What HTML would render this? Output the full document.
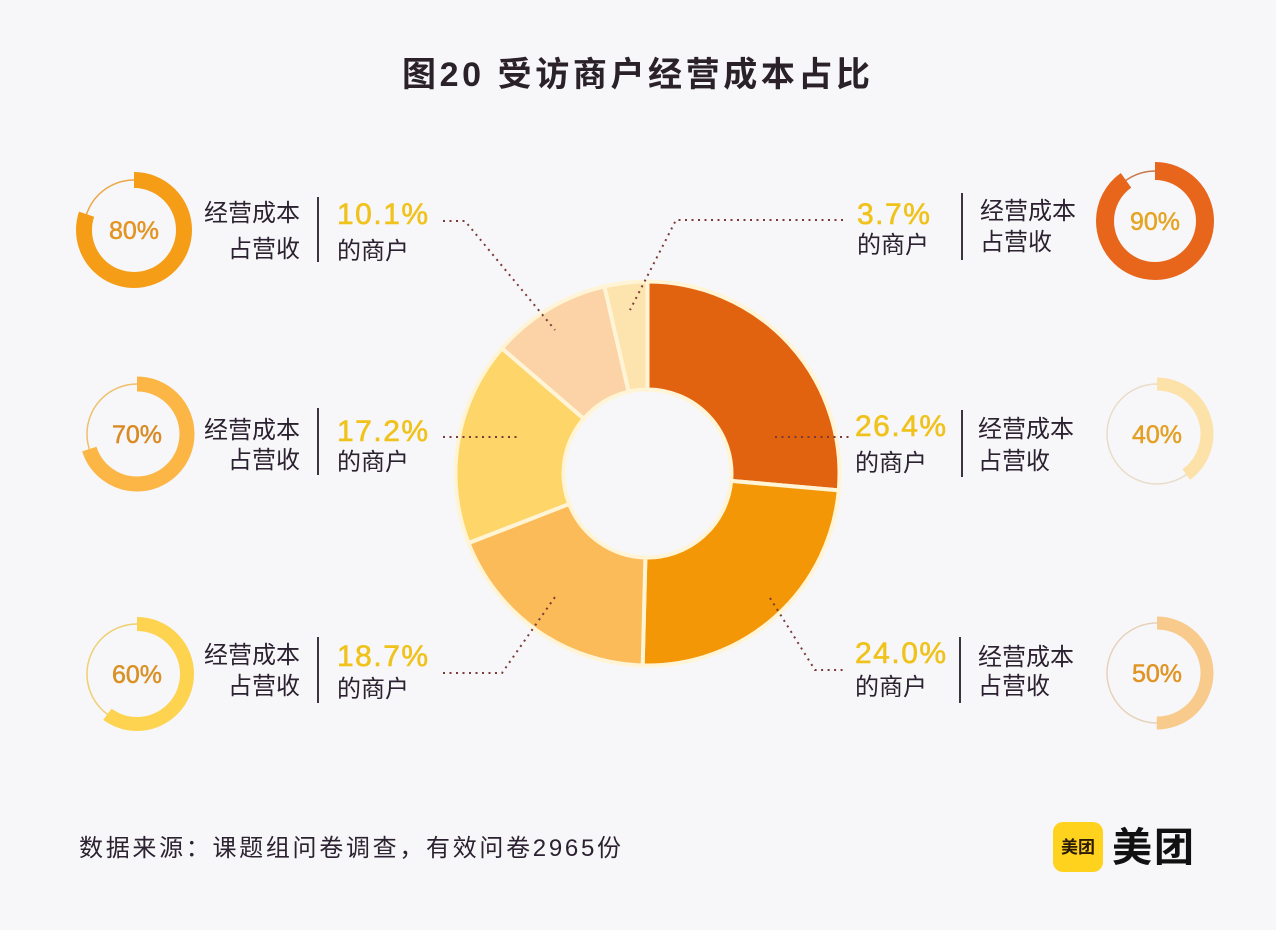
<!DOCTYPE html>
<html>
<head>
<meta charset="utf-8">
<style>
  html,body{margin:0;padding:0;background:#f7f7f9;}
  svg{display:block;}
  .cn{font-family:"Liberation Sans","Noto Sans CJK SC",sans-serif;}
  .lbl{font-size:24px;fill:#2b2130;}
  .pct{font-size:30px;fill:#f0c21c;stroke:#f0c21c;stroke-width:0.6;font-family:"Liberation Sans",sans-serif;letter-spacing:1.5px;}
  .rp{font-size:25px;font-family:"Liberation Sans",sans-serif;text-anchor:middle;stroke-width:0.5;}
  .div{stroke:#3d3340;stroke-width:2;}
  .lead{fill:none;stroke:#7a3a3a;stroke-width:2;stroke-dasharray:2 4.5;}
  .seg{stroke:#fff4d6;stroke-width:4;stroke-linejoin:miter;}
</style>
</head>
<body>
<svg width="1276" height="930" viewBox="0 0 1276 930" xmlns="http://www.w3.org/2000/svg">
  <rect width="1276" height="930" fill="#f7f7f9"/>

  <!-- Title -->
  <text class="cn" x="402" y="86" font-size="34" font-weight="700" fill="#2a2228" textLength="468" lengthAdjust="spacing">图20 受访商户经营成本占比</text>

  <!-- Donut -->
  <path class="seg" fill="#e1620f" d="M647.5,281.5 A192,192 0 0 1 838.76,490.37 L731.17,480.88 A84,84 0 0 0 647.5,389.5 Z"/>
  <path class="seg" fill="#f39707" d="M838.76,490.37 A192,192 0 0 1 642.67,665.44 L645.39,557.47 A84,84 0 0 0 731.17,480.88 Z"/>
  <path class="seg" fill="#fabb58" d="M642.67,665.44 A192,192 0 0 1 468.55,543.05 L569.21,503.93 A84,84 0 0 0 645.39,557.47 Z"/>
  <path class="seg" fill="#fdd568" d="M468.55,543.05 A192,192 0 0 1 501.94,348.30 L583.82,418.72 A84,84 0 0 0 569.21,503.93 Z"/>
  <path class="seg" fill="#fbd3a6" d="M501.94,348.30 A192,192 0 0 1 604.44,286.39 L628.66,391.64 A84,84 0 0 0 583.82,418.72 Z"/>
  <path class="seg" fill="#fde3ae" d="M604.44,286.39 A192,192 0 0 1 647.5,281.5 L647.5,389.5 A84,84 0 0 0 628.66,391.64 Z"/>

  <!-- Leader lines -->
  <polyline class="lead" points="443,221 465,221 555,330"/>
  <polyline class="lead" points="843,220 676,220 630,310"/>
  <polyline class="lead" points="443,437 520,437"/>
  <polyline class="lead" points="775,437 850,437"/>
  <polyline class="lead" points="443,673 502,673 555,597"/>
  <polyline class="lead" points="770,598 815,670 845,670"/>

  <!-- Left rings -->
  <g>
    <circle cx="134" cy="230" r="50" fill="none" stroke="#eaa845" stroke-width="1.5"/>
    <circle cx="134" cy="230" r="50" fill="none" stroke="#f59d16" stroke-width="16" stroke-dasharray="251.33 314.16" transform="rotate(-90 134 230)"/>
    <text class="rp" x="134" y="239" fill="#e39422" stroke="#e39422">80%</text>

    <circle cx="137" cy="434" r="50" fill="none" stroke="#efbf6a" stroke-width="1.5"/>
    <circle cx="137" cy="434" r="50" fill="none" stroke="#fbb646" stroke-width="15" stroke-dasharray="219.91 314.16" transform="rotate(-90 137 434)"/>
    <text class="rp" x="137" y="443" fill="#d98a24" stroke="#d98a24">70%</text>

    <circle cx="137" cy="674" r="50" fill="none" stroke="#efcf70" stroke-width="1.5"/>
    <circle cx="137" cy="674" r="50" fill="none" stroke="#fdd34f" stroke-width="14" stroke-dasharray="188.5 314.16" transform="rotate(-90 137 674)"/>
    <text class="rp" x="137" y="683" fill="#d99024" stroke="#d99024">60%</text>
  </g>

  <!-- Right rings -->
  <g>
    <circle cx="1155" cy="221" r="50" fill="none" stroke="#c8764a" stroke-width="1.5"/>
    <circle cx="1155" cy="221" r="50" fill="none" stroke="#e7661b" stroke-width="18" stroke-dasharray="282.74 314.16" transform="rotate(-90 1155 221)"/>
    <text class="rp" x="1155" y="230" fill="#e6a424" stroke="#e6a424">90%</text>

    <circle cx="1157" cy="434" r="50" fill="none" stroke="#e9dcc8" stroke-width="1.5"/>
    <circle cx="1157" cy="434" r="50" fill="none" stroke="#fce2a9" stroke-width="13" stroke-dasharray="125.66 314.16" transform="rotate(-90 1157 434)"/>
    <text class="rp" x="1157" y="443" fill="#e3a024" stroke="#e3a024">40%</text>

    <circle cx="1157" cy="673" r="50" fill="none" stroke="#e6d2bb" stroke-width="1.5"/>
    <circle cx="1157" cy="673" r="50" fill="none" stroke="#f8cb8c" stroke-width="13" stroke-dasharray="157.08 314.16" transform="rotate(-90 1157 673)"/>
    <text class="rp" x="1157" y="682" fill="#e09424" stroke="#e09424">50%</text>
  </g>

  <!-- Left labels -->
  <g class="cn lbl" text-anchor="end">
    <text x="300" y="221">经营成本</text>
    <text x="300" y="257">占营收</text>
    <text x="300" y="438">经营成本</text>
    <text x="300" y="468">占营收</text>
    <text x="300" y="663">经营成本</text>
    <text x="300" y="694">占营收</text>
  </g>
  <line class="div" x1="318" y1="197" x2="318" y2="262"/>
  <line class="div" x1="318" y1="408" x2="318" y2="475"/>
  <line class="div" x1="318" y1="637" x2="318" y2="703"/>
  <text class="pct" x="337" y="224">10.1%</text>
  <text class="cn lbl" x="337" y="259">的商户</text>
  <text class="pct" x="337" y="441">17.2%</text>
  <text class="cn lbl" x="337" y="470">的商户</text>
  <text class="pct" x="337" y="666">18.7%</text>
  <text class="cn lbl" x="337" y="697">的商户</text>

  <!-- Right labels -->
  <text class="pct" x="857" y="224">3.7%</text>
  <text class="cn lbl" x="857" y="253">的商户</text>
  <text class="pct" x="855" y="436">26.4%</text>
  <text class="cn lbl" x="855" y="471">的商户</text>
  <text class="pct" x="855" y="663">24.0%</text>
  <text class="cn lbl" x="855" y="695">的商户</text>
  <line class="div" x1="962" y1="193" x2="962" y2="260"/>
  <line class="div" x1="962" y1="410" x2="962" y2="477"/>
  <line class="div" x1="960" y1="637" x2="960" y2="703"/>
  <g class="cn lbl">
    <text x="980" y="219">经营成本</text>
    <text x="980" y="250">占营收</text>
    <text x="978" y="437">经营成本</text>
    <text x="978" y="469">占营收</text>
    <text x="978" y="665">经营成本</text>
    <text x="978" y="694">占营收</text>
  </g>

  <!-- Footer -->
  <text class="cn" x="79" y="856" font-size="24" fill="#2b2130" textLength="542" lengthAdjust="spacing">数据来源：课题组问卷调查，有效问卷2965份</text>

  <!-- Logo -->
  <rect x="1053" y="822" width="50" height="50" rx="10" fill="#ffd21e"/>
  <text class="cn" x="1078" y="853" font-size="17" font-weight="700" fill="#2a1a08" text-anchor="middle">美团</text>
  <text class="cn" x="1112" y="861" font-size="40" font-weight="700" fill="#111" textLength="82" lengthAdjust="spacing">美团</text>
</svg>
</body>
</html>
